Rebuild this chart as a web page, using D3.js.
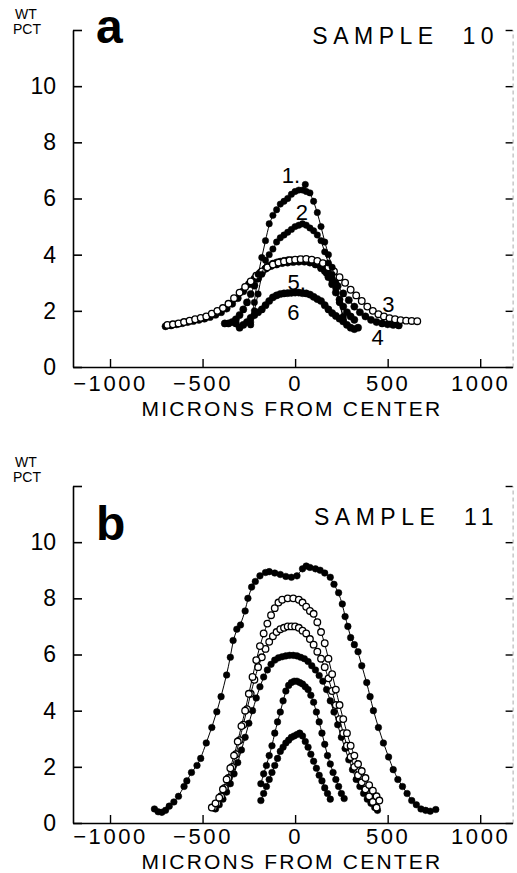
<!DOCTYPE html>
<html><head><meta charset="utf-8">
<script src="https://cdn.jsdelivr.net/npm/d3@7"></script>
<style>body{margin:0;background:#fff}svg{display:block}</style>
</head><body>
<svg id="c" width="517" height="873"></svg>
<script>
// ---------- data ----------
const xTicks = [-1000, -500, 0, 500, 1000];
const yTicks = [0, 2, 4, 6, 8, 10, 12];
const xTitle = "MICRONS FROM CENTER";
const yTitle = ["WT", "PCT"];
const panelLetters = ["a", "b"];
const sampleNames = ["SAMPLE  10", "SAMPLE  11"];

// Panel a (sample 10) profiles: [microns, wt pct]
const a1 = [[-240,1.6],[-220,2.3],[-200,3.3],[-180,3.9],[-160,4.5],[-140,5.1],[-120,5.4],[-100,5.6],[-80,5.8],[-60,5.9],[-40,6.0],[-20,6.15],[0,6.25],[20,6.3],[40,6.3],[55,6.5],[60,6.25],[80,6.2],[100,5.9],[120,5.5],[140,5.0],[160,4.45],[180,4.0],[200,3.55],[220,3.0],[240,2.3],[260,1.7]];
const a2 = [[-240,1.5],[-220,2.0],[-200,2.6],[-180,3.3],[-160,3.8],[-140,4.0],[-120,4.2],[-100,4.45],[-80,4.6],[-60,4.7],[-40,4.8],[-20,4.9],[0,5.0],[20,5.05],[40,5.1],[60,5.05],[80,4.95],[100,4.85],[120,4.7],[140,4.5],[160,4.1],[180,3.7],[200,3.3],[220,2.8],[240,2.3],[260,1.8]];
const a3 = [[-690,1.5],[-660,1.52],[-630,1.55],[-600,1.6],[-570,1.65],[-540,1.7],[-510,1.75],[-480,1.8],[-450,1.9],[-420,2.0],[-390,2.1],[-360,2.25],[-330,2.45],[-300,2.65],[-270,2.85],[-240,3.05],[-210,3.25],[-180,3.4],[-150,3.55],[-120,3.65],[-90,3.72],[-60,3.76],[-30,3.8],[0,3.82],[30,3.84],[60,3.85],[90,3.82],[120,3.78],[150,3.7],[180,3.55],[210,3.4],[240,3.2],[270,3.0],[300,2.75],[330,2.55],[360,2.35],[390,2.15],[420,2.0],[450,1.88],[480,1.8],[510,1.74],[540,1.7],[570,1.67],[600,1.65],[630,1.64],[660,1.63]];
const a4 = [[-700,1.45],[-670,1.48],[-640,1.52],[-610,1.56],[-580,1.6],[-550,1.64],[-520,1.68],[-490,1.72],[-460,1.78],[-430,1.86],[-400,1.95],[-370,2.08],[-340,2.25],[-310,2.45],[-280,2.7],[-250,2.95],[-220,3.15],[-190,3.35],[-160,3.5],[-130,3.6],[-100,3.65],[-70,3.7],[-40,3.72],[-10,3.74],[20,3.75],[50,3.75],[80,3.72],[110,3.65],[140,3.52],[170,3.35],[200,3.12],[230,2.88],[260,2.62],[290,2.38],[320,2.15],[350,1.95],[380,1.8],[410,1.68],[440,1.6],[470,1.55],[500,1.52],[530,1.5],[560,1.48]];
const a5 = [[-320,1.7],[-300,1.85],[-280,2.05],[-260,2.3],[-240,2.6],[-220,2.9],[-200,3.15],[-180,3.35],[-160,3.5],[-140,3.6],[-120,3.68],[-100,3.72],[-80,3.75],[-60,3.78],[-40,3.8],[-20,3.8],[0,3.8],[20,3.82],[40,3.82],[60,3.8],[80,3.78],[100,3.74],[120,3.68],[140,3.58],[160,3.42],[180,3.2],[200,2.95],[220,2.65],[240,2.4],[260,2.15],[280,1.95],[300,1.8],[320,1.68]];
const a6 = [[-380,1.55],[-360,1.55],[-340,1.6],[-320,1.55],[-300,1.4],[-280,1.5],[-260,1.6],[-240,1.75],[-220,1.85],[-200,1.95],[-180,2.05],[-160,2.2],[-140,2.35],[-120,2.48],[-100,2.55],[-80,2.6],[-60,2.62],[-40,2.63],[-20,2.64],[0,2.65],[20,2.65],[40,2.63],[60,2.62],[80,2.58],[100,2.5],[120,2.42],[140,2.35],[160,2.2],[180,2.05],[200,1.92],[220,1.82],[240,1.72],[260,1.62],[280,1.5],[300,1.4],[320,1.35],[340,1.4]];

// Panel b (sample 11) profiles
const b1 = [[-760,0.5],[-740,0.4],[-720,0.38],[-700,0.45],[-680,0.6],[-655,0.75],[-630,0.95],[-600,1.3],[-585,1.5],[-560,1.8],[-530,2.05],[-510,2.3],[-480,2.85],[-450,3.4],[-423,3.96],[-400,4.5],[-370,5.27],[-350,5.9],[-335,6.5],[-315,6.9],[-295,7.05],[-270,7.55],[-255,8.0],[-235,8.4],[-215,8.6],[-190,8.8],[-160,8.92],[-140,8.95],[-110,8.9],[-80,8.85],[-50,8.78],[-20,8.75],[10,8.8],[40,9.05],[60,9.15],[80,9.1],[110,9.05],[135,9.0],[160,8.9],[190,8.75],[210,8.5],[235,8.2],[255,7.8],[270,7.35],[285,7.0],[300,6.6],[320,6.35],[340,6.1],[360,5.6],[387,5.0],[405,4.5],[423,4.0],[450,3.4],[477,2.85],[505,2.35],[530,1.9],[555,1.55],[580,1.3],[605,1.05],[630,0.8],[655,0.65],[680,0.5],[705,0.45],[730,0.42],[760,0.48]];
const b2 = [[-450,0.55],[-430,0.7],[-410,0.9],[-390,1.2],[-370,1.55],[-350,1.95],[-330,2.4],[-310,2.9],[-290,3.45],[-270,4.0],[-250,4.6],[-230,5.2],[-210,5.8],[-190,6.3],[-170,6.75],[-150,7.1],[-130,7.4],[-110,7.65],[-90,7.85],[-70,7.95],[-40,8.0],[-10,8.0],[20,7.95],[40,7.85],[60,7.7],[80,7.55],[100,7.45],[120,7.15],[140,6.8],[160,6.4],[180,5.85],[200,5.3],[220,4.75],[240,4.2],[260,3.7],[280,3.2],[300,2.75],[320,2.4],[340,2.1],[360,1.85],[380,1.6],[400,1.35],[420,1.15],[440,0.95],[455,0.8]];
const b3 = [[-440,0.55],[-420,0.7],[-400,0.95],[-380,1.25],[-360,1.6],[-340,2.0],[-320,2.45],[-300,2.95],[-280,3.5],[-260,4.05],[-240,4.6],[-220,5.1],[-200,5.55],[-180,5.9],[-160,6.2],[-140,6.45],[-120,6.65],[-100,6.8],[-80,6.9],[-60,6.95],[-40,7.0],[-20,7.0],[0,7.0],[20,6.95],[40,6.85],[60,6.75],[80,6.55],[100,6.35],[120,6.1],[140,5.85],[160,5.55],[180,5.15],[200,4.7],[220,4.2],[240,3.7],[260,3.2],[280,2.75],[300,2.35],[320,2.0],[340,1.7],[360,1.45],[380,1.2],[400,0.95],[420,0.75],[440,0.55]];
const b4 = [[-430,0.5],[-410,0.65],[-390,0.85],[-370,1.1],[-350,1.4],[-330,1.75],[-310,2.15],[-290,2.6],[-270,3.05],[-250,3.55],[-230,4.0],[-210,4.45],[-190,4.85],[-170,5.2],[-150,5.45],[-130,5.65],[-110,5.8],[-90,5.88],[-70,5.92],[-50,5.95],[-30,5.97],[-10,5.97],[10,5.95],[30,5.9],[50,5.85],[70,5.75],[90,5.6],[110,5.45],[130,5.25],[150,5.05],[170,4.75],[190,4.35],[210,3.95],[230,3.5],[250,3.05],[270,2.65],[290,2.25],[310,1.9],[330,1.55],[350,1.3],[370,1.05],[390,0.85],[410,0.7],[430,0.55],[445,0.45]];
const b5 = [[-185,1.4],[-170,1.75],[-155,2.05],[-140,2.4],[-125,2.75],[-110,3.2],[-95,3.6],[-80,3.95],[-65,4.35],[-50,4.7],[-35,4.9],[-20,5.0],[-5,5.05],[10,5.05],[25,5.0],[40,4.95],[55,4.85],[70,4.75],[85,4.55],[100,4.3],[115,3.95],[130,3.6],[145,3.2],[160,2.8],[175,2.4],[190,2.1],[205,1.8],[220,1.55],[235,1.3],[250,1.05],[265,0.87]];
const b6 = [[-185,0.8],[-170,1.05],[-155,1.3],[-140,1.55],[-125,1.8],[-110,2.05],[-95,2.3],[-80,2.55],[-65,2.7],[-50,2.85],[-35,2.95],[-20,3.05],[-5,3.1],[10,3.15],[25,3.2],[40,3.1],[55,2.9],[70,2.7],[85,2.45],[100,2.2],[115,1.95],[130,1.7],[145,1.5],[160,1.25],[175,1.05],[190,0.85]];

// curve labels for panel a: [text, microns, wt pct]
const aLabels = [["1.", -22, 6.55], ["2", 36, 5.23], ["5,", 9, 2.74], ["6", -9, 1.67], ["3", 504, 1.97], ["4", 446, 0.78]];

const panels = [
  { series: [{d:a4,open:false,r:3.6},{d:a5,open:false,r:3.6},{d:a3,open:true,r:3.3},{d:a6,open:false,r:3.6},{d:a2,open:false,r:3.2},{d:a1,open:false,r:3.2}], labels: aLabels },
  { series: [{d:b1,open:false,r:3.3},{d:b4,open:false,r:3.3},{d:b3,open:true,r:3.3},{d:b2,open:true,r:3.3},{d:b5,open:false,r:3.3},{d:b6,open:false,r:3.3}], labels: [] }
];

// ---------- layout ----------
const svg = d3.select("#c");
const font = "'Liberation Sans', Arial, sans-serif";
const xL = 73, xR = 512.6;
const frames = [
  { top: 30, bottom: 367, titleY: 416, tickPad: 8, wtY: 19, pctY: 34, letterY: 43, sampleY: 44 },
  { top: 486, bottom: 823, titleY: 868.5, tickPad: 5, wtY: 467, pctY: 482, letterY: 540, sampleY: 525 }
];

const x = d3.scaleLinear().domain([-1200, 1175]).range([xL, xR]);

panels.forEach((p, i) => {
  const f = frames[i];
  const y = d3.scaleLinear().domain([0, 12]).range([f.bottom, f.top]);
  const g = svg.append("g");

  // right axis (faint scanned line + black ticks)
  const ra = g.append("g").attr("transform", `translate(${xR},0)`)
    .call(d3.axisRight(y).tickValues(yTicks).tickSizeInner(-7).tickSizeOuter(0).tickFormat(""));
  ra.select(".domain").attr("stroke", "#aaa").attr("stroke-width", 1).attr("stroke-dasharray", "4,3");
  ra.selectAll(".tick line").attr("stroke", "#000").attr("stroke-width", 1.4);

  // left axis
  const la = g.append("g").attr("transform", `translate(${xL},0)`)
    .call(d3.axisLeft(y).tickValues(yTicks).tickSizeInner(-9).tickSizeOuter(0)
      .tickPadding(17).tickFormat(d => d === 12 ? "" : d3.format("d")(d)));
  la.select(".domain").attr("stroke-width", 1.6);
  la.selectAll(".tick line").attr("stroke-width", 1.6);
  la.selectAll("text").attr("font-family", font).attr("font-size", 23).attr("fill", "#000");

  // bottom axis
  const ba = g.append("g").attr("transform", `translate(0,${f.bottom})`)
    .call(d3.axisBottom(x).tickValues(xTicks).tickSizeInner(-8).tickSizeOuter(0)
      .tickPadding(f.tickPad).tickFormat(d3.format("d")));
  ba.select(".domain").attr("stroke-width", 1.6);
  ba.selectAll(".tick line").attr("stroke-width", 1.4);
  ba.selectAll("text").attr("font-family", font).attr("font-size", 22)
    .attr("letter-spacing", 2.6).attr("fill", "#000");

  // axis titles
  g.append("text").attr("x", 292).attr("y", f.titleY).attr("text-anchor", "middle")
    .attr("font-family", font).attr("font-size", 21).attr("letter-spacing", 2.2).text(xTitle);
  g.append("text").attr("x", 15).attr("y", f.wtY).attr("font-family", font).attr("font-size", 14).text(yTitle[0]);
  g.append("text").attr("x", 13).attr("y", f.pctY).attr("font-family", font).attr("font-size", 14).text(yTitle[1]);

  // panel letter & sample name
  g.append("text").attr("x", 96).attr("y", f.letterY).attr("font-family", font).attr("font-weight", "bold")
    .attr("font-size", 48).text(panelLetters[i]);
  g.append("text").attr("x", 499).attr("y", f.sampleY).attr("text-anchor", "end").attr("font-family", font)
    .attr("font-size", 23).attr("letter-spacing", 5.5)
    .style("white-space", "pre").text(sampleNames[i]);

  // series
  const line = d3.line().x(d => x(d[0])).y(d => y(d[1])).curve(d3.curveBasis);
  p.series.forEach(s => {
    g.append("path").attr("d", line(s.d)).attr("fill", "none").attr("stroke", "#000").attr("stroke-width", 1);
    g.append("g").selectAll("circle").data(s.d).join("circle")
      .attr("cx", d => x(d[0])).attr("cy", d => y(d[1])).attr("r", s.r)
      .attr("fill", s.open ? "#fff" : "#000").attr("stroke", "#000").attr("stroke-width", s.open ? 1.3 : 0.5);
  });

  // curve labels
  g.append("g").selectAll("text").data(p.labels).join("text")
    .attr("x", d => x(d[1])).attr("y", d => y(d[2])).attr("text-anchor", "middle")
    .attr("font-family", font).attr("font-size", 22).attr("fill", "#000")
    .text(d => d[0]);
});
</script>
</body></html>
